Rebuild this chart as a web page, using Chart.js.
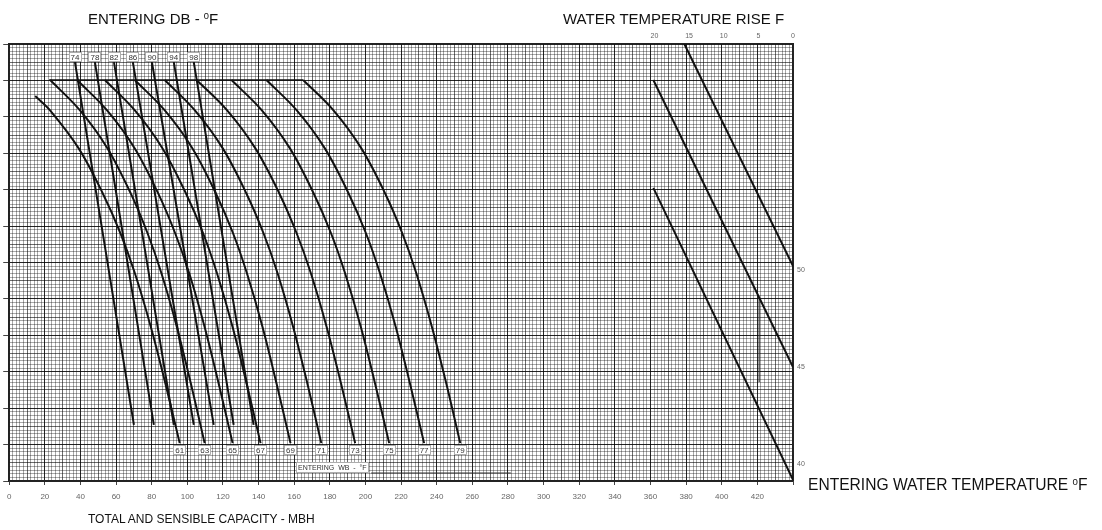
<!DOCTYPE html>
<html>
<head>
<meta charset="utf-8">
<script src="https://cdn.jsdelivr.net/npm/chart.js@4.4.1/dist/chart.umd.min.js"></script>
<style>
  html, body { margin: 0; padding: 0; background: #fff; }
  #wrap { position: relative; width: 1102px; height: 530px; overflow: hidden; }
  canvas { position: absolute; left: 0; top: 0; }
  .ttl { position: absolute; font-family: "Liberation Sans", Arial, sans-serif; color: #111; white-space: nowrap; line-height: 1; }
  .ttl sup { font-size: 0.62em; vertical-align: 0.55em; line-height: 0; }
</style>
</head>
<body>
<div id="wrap">
  <canvas id="chart" width="1102" height="530"></canvas>
  <div class="ttl" style="left:88px; top:11px; font-size:15px;">ENTERING DB - <sup>0</sup>F</div>
  <div class="ttl" style="left:563px; top:11px; font-size:15px;">WATER TEMPERATURE RISE F</div>
  <div class="ttl" style="left:808px; top:477px; font-size:15.6px;">ENTERING WATER TEMPERATURE <sup>0</sup>F</div>
  <div class="ttl" style="left:88px; top:513px; font-size:12px;">TOTAL AND SENSIBLE CAPACITY - MBH</div>
</div>
<script>
// Axis tick labels
const capacityTicks = [0, 20, 40, 60, 80, 100, 120, 140, 160, 180, 200, 220, 240, 260, 280, 300, 320, 340, 360, 380, 400, 420];
const riseTicks = [20, 15, 10, 5, 0];
const waterTempTicks = [50, 45, 40];

// Entering dry-bulb lines (steep): top and bottom ends
const dbLabels = ['74', '78', '82', '86', '90', '94', '98'];
const dbTopX = [36.9, 48.1, 58.8, 69.4, 80.1, 92.4, 103.6];
const dbBottomX = [70.0, 81.2, 92.4, 103.6, 114.8, 126.0, 137.2];
const dbEndsY = [11.5, 1.54];

// Entering wet-bulb curves (capacity vs. vertical position)
const wbLabels = ['61', '63', '65', '67', '69', '71', '73', '75', '77', '79'];
const wbY = [11.01, 10.19, 9.14, 7.91, 6.81, 5.71, 4.23, 2.69, 1.04];
const wb61Y = [10.57, 10.19, 9.14, 7.91, 6.81, 5.71, 4.23, 2.69, 1.04];
const wb61 = [14.6, 22.7, 38.9, 52.4, 62.4, 70.5, 79.5, 87.6, 95.7];
const wb63 = [23.0, 39.5, 55.1, 68.1, 77.6, 85.4, 94.1, 101.9, 109.7];
const wb65 = [38.1, 54.7, 70.4, 83.5, 93.1, 101.0, 109.7, 117.5, 125.4];
const wb67 = [53.7, 70.3, 86.0, 99.1, 108.8, 116.6, 125.4, 133.2, 141.1];
const wb69 = [70.5, 87.1, 102.8, 115.9, 125.6, 133.4, 142.2, 150.0, 157.9];
const wb71 = [87.3, 104.0, 119.8, 133.0, 142.7, 150.6, 159.4, 167.3, 175.2];
const wb73 = [105.2, 122.1, 138.1, 151.5, 161.3, 169.3, 178.2, 186.2, 194.2];
const wb75 = [124.8, 141.6, 157.5, 170.8, 180.6, 188.5, 197.4, 205.3, 213.3];
const wb77 = [144.4, 161.2, 177.1, 190.4, 200.2, 208.1, 217.0, 224.9, 232.9];
const wb79 = [165.0, 181.8, 197.6, 210.9, 220.6, 228.5, 237.3, 245.3, 253.2];

// Upper limit line joining the wet-bulb curve starts
const capLimitX = [22.4, 165.0];
const capLimitY = [11.01, 11.01];

// Water temperature rise lines (right-hand section)
const riseLineAX = [379.0, 440.0];
const riseLineAY = [12.0, 5.90];
const riseLineBX = [361.6, 440.0];
const riseLineBY = [11.01, 3.13];
const riseLineCX = [361.6, 440.0];
const riseLineCY = [8.05, 0.03];

// Light construction segments
const guideHX = [203.2, 281.6];
const guideHY = [0.22, 0.22];
const guideVX = [421.0, 421.0];
const guideVY = [5.05, 2.72];

// Label anchors
const dbLabelY = 11.64;
const wbLabelY = 0.85;
const wbTagX = 181.4;
const wbTagY = 0.38;

const pts = (xs, ys) => xs.map((x, i) => ({ x, y: ys[i] }));

const wbCurves = [
  pts(wb61, wb61Y), pts(wb63, wbY), pts(wb65, wbY), pts(wb67, wbY), pts(wb69, wbY),
  pts(wb71, wbY), pts(wb73, wbY), pts(wb75, wbY), pts(wb77, wbY), pts(wb79, wbY)
];

const datasets = [];
wbCurves.forEach((d, i) => datasets.push({
  label: 'WB ' + wbLabels[i], data: d, showLine: true, borderColor: '#111', borderWidth: 2,
  pointRadius: 0, tension: 0.35, xAxisID: 'x', yAxisID: 'y'
}));
dbLabels.forEach((t, i) => datasets.push({
  label: 'DB ' + t, data: pts([dbTopX[i], dbBottomX[i]], dbEndsY), showLine: true,
  borderColor: '#111', borderWidth: 2, pointRadius: 0, xAxisID: 'x', yAxisID: 'y'
}));
datasets.push({ label: 'limit', data: pts(capLimitX, capLimitY), showLine: true, borderColor: '#111', borderWidth: 1.5, pointRadius: 0, xAxisID: 'x', yAxisID: 'y' });
[[riseLineAX, riseLineAY], [riseLineBX, riseLineBY], [riseLineCX, riseLineCY]].forEach((p, i) => datasets.push({
  label: 'rise ' + i, data: pts(p[0], p[1]), showLine: true, borderColor: '#111', borderWidth: 2, pointRadius: 0, xAxisID: 'x', yAxisID: 'y'
}));
[[guideHX, guideHY], [guideVX, guideVY]].forEach((p, i) => datasets.push({
  label: 'guide ' + i, data: pts(p[0], p[1]), showLine: true, borderColor: '#333', borderWidth: 1.2, pointRadius: 0, xAxisID: 'x', yAxisID: 'y'
}));

// graph-paper shading: heavy every 10 minor lines, medium every 5
function paperShade(k) {
  if (k % 10 === 0) return 'rgba(0,0,0,0.85)';
  if (k % 5 === 0) return 'rgba(0,0,0,0.58)';
  return 'rgba(0,0,0,0.34)';
}

const markLabels = {
  id: 'markLabels',
  afterDatasetsDraw(chart) {
    const { ctx, scales: { x, y } } = chart;
    ctx.save();
    ctx.font = '8px "Liberation Sans", Arial, sans-serif';
    ctx.textAlign = 'center';
    ctx.textBaseline = 'middle';
    const box = (text, px, py, h) => {
      const w = ctx.measureText(text).width + 4;
      ctx.fillStyle = '#fff';
      ctx.fillRect(Math.round(px - w / 2), Math.round(py - h / 2), Math.round(w), h);
      ctx.strokeStyle = '#999';
      ctx.lineWidth = 0.8;
      ctx.strokeRect(Math.round(px - w / 2) + 0.5, Math.round(py - h / 2) + 0.5, Math.round(w) - 1, h - 1);
      ctx.fillStyle = '#333';
      ctx.fillText(text, px, py + 0.5);
    };
    dbLabels.forEach((t, i) => box(t, x.getPixelForValue(dbTopX[i]), y.getPixelForValue(dbLabelY), 10));
    wbLabels.forEach((t, i) => {
      const d = wbCurves[i];
      box(t, x.getPixelForValue(d[d.length - 1].x), y.getPixelForValue(wbLabelY), 10);
    });
    ctx.font = '7px "Liberation Sans", Arial, sans-serif';
    box('ENTERING  WB  -  \u00B0F', x.getPixelForValue(wbTagX), y.getPixelForValue(wbTagY), 11);
    ctx.restore();
  }
};

const tickFont = { family: '"Liberation Sans", Arial, sans-serif', size: 8 };

new Chart(document.getElementById('chart'), {
  type: 'scatter',
  data: { datasets },
  options: {
    responsive: false,
    animation: false,
    devicePixelRatio: 1,
    layout: { padding: 0 },
    plugins: { legend: { display: false }, tooltip: { enabled: false }, title: { display: false } },
    scales: {
      x: {
        type: 'linear', position: 'bottom', min: 0, max: 440,
        ticks: {
          stepSize: 2, autoSkip: false, maxRotation: 0, minRotation: 0, padding: 7,
          color: '#666', font: tickFont,
          callback: v => (capacityTicks.includes(Math.round(v)) && Math.abs(v - Math.round(v)) < 1e-6) ? String(Math.round(v)) : ''
        },
        grid: {
          color: c => paperShade(Math.round(c.tick.value / 2)),
          lineWidth: 1, tickLength: 4,
          tickColor: c => (Math.round(c.tick.value / 2) % 10 === 0 ? '#444' : 'rgba(0,0,0,0)')
        },
        border: { display: true, color: '#222', width: 1.5 },
        afterFit: s => { s.height = 49; }
      },
      xTop: {
        type: 'linear', position: 'top', min: 0, max: 113.1, reverse: true,
        afterBuildTicks: s => { s.ticks = riseTicks.map(v => ({ value: v })); },
        ticks: { autoSkip: false, maxRotation: 0, padding: 4, color: '#666', font: { family: tickFont.family, size: 7 } },
        grid: { display: false, drawTicks: false },
        border: { display: true, color: '#222', width: 1.5 },
        afterFit: s => { s.height = 44; }
      },
      y: {
        type: 'linear', position: 'left', min: 0, max: 12,
        ticks: { stepSize: 0.1, autoSkip: false, display: false },
        grid: {
          color: c => paperShade(Math.round(c.tick.value * 10)),
          lineWidth: 1, tickLength: 6,
          tickColor: c => (Math.round(c.tick.value * 10) % 10 === 0 ? '#444' : 'rgba(0,0,0,0)')
        },
        border: { display: true, color: '#222', width: 1.5 },
        afterFit: s => { s.width = 7; }
      },
      yR: {
        type: 'linear', position: 'right', min: 39.12, max: 61.65,
        afterBuildTicks: s => { s.ticks = waterTempTicks.map(v => ({ value: v })); },
        ticks: { autoSkip: false, padding: 4, color: '#666', font: { family: tickFont.family, size: 7 } },
        grid: { display: false, drawTicks: false },
        border: { display: true, color: '#222', width: 1.5 },
        afterFit: s => { s.width = 309; }
      }
    }
  },
  plugins: [markLabels]
});
</script>
</body>
</html>
